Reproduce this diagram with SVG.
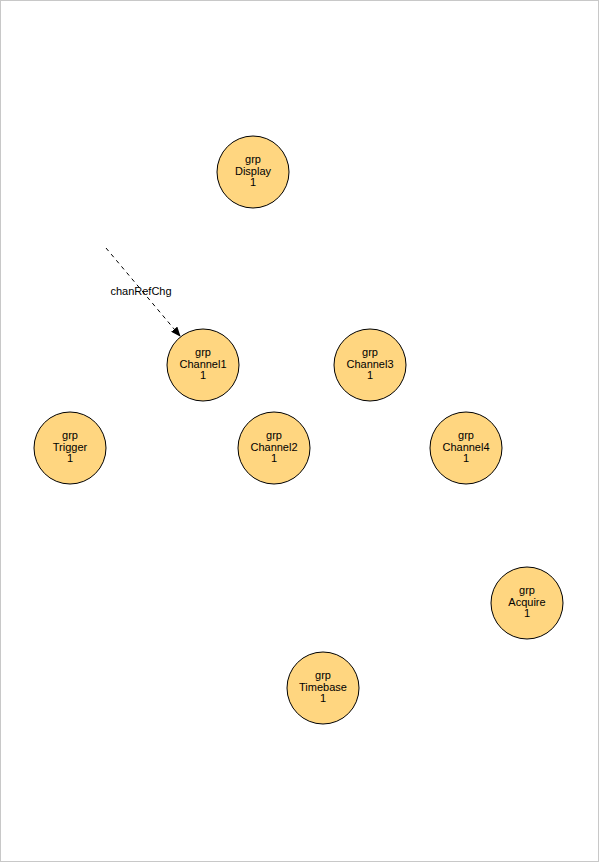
<svg xmlns="http://www.w3.org/2000/svg" width="600" height="863" viewBox="0 0 600 863">
<style>
.n circle{fill:#ffd680;stroke:#000;stroke-width:1}
text{font-family:"Liberation Sans",Arial,sans-serif;font-size:11px;text-anchor:middle;fill:#000}
.e{stroke:#000;stroke-width:1;stroke-dasharray:4,4;fill:none}
</style>
<defs>
<marker id="ah" markerWidth="10" markerHeight="8" refX="9" refY="4" orient="auto" markerUnits="userSpaceOnUse">
<path d="M0,0 L10,4 L0,8 Z" fill="#000"/>
</marker>
</defs>
<rect x="0.5" y="0.5" width="598" height="861" fill="#fff" stroke="#c8c8c8" stroke-width="1"/>
<g id="connectors">
<path class="e" d="M106,248 L180,336" marker-end="url(#ah)"/>
<text x="141" y="295">chanRefChg</text>
</g>
<g id="Display" class="n"><circle cx="253" cy="172" r="36"/><text x="253" y="163">grp</text><text x="253" y="174.5">Display</text><text x="253" y="186">1</text></g>
<g id="Channel1" class="n"><circle cx="203" cy="365" r="36"/><text x="203" y="356">grp</text><text x="203" y="367.5">Channel1</text><text x="203" y="379">1</text></g>
<g id="Channel3" class="n"><circle cx="370" cy="365" r="36"/><text x="370" y="356">grp</text><text x="370" y="367.5">Channel3</text><text x="370" y="379">1</text></g>
<g id="Trigger" class="n"><circle cx="70" cy="448" r="36"/><text x="70" y="439">grp</text><text x="70" y="450.5">Trigger</text><text x="70" y="462">1</text></g>
<g id="Channel2" class="n"><circle cx="274" cy="448" r="36"/><text x="274" y="439">grp</text><text x="274" y="450.5">Channel2</text><text x="274" y="462">1</text></g>
<g id="Channel4" class="n"><circle cx="466" cy="448" r="36"/><text x="466" y="439">grp</text><text x="466" y="450.5">Channel4</text><text x="466" y="462">1</text></g>
<g id="Acquire" class="n"><circle cx="527" cy="603" r="36"/><text x="527" y="594">grp</text><text x="527" y="605.5">Acquire</text><text x="527" y="617">1</text></g>
<g id="Timebase" class="n"><circle cx="323" cy="688" r="36"/><text x="323" y="679">grp</text><text x="323" y="690.5">Timebase</text><text x="323" y="702">1</text></g>
</svg>
